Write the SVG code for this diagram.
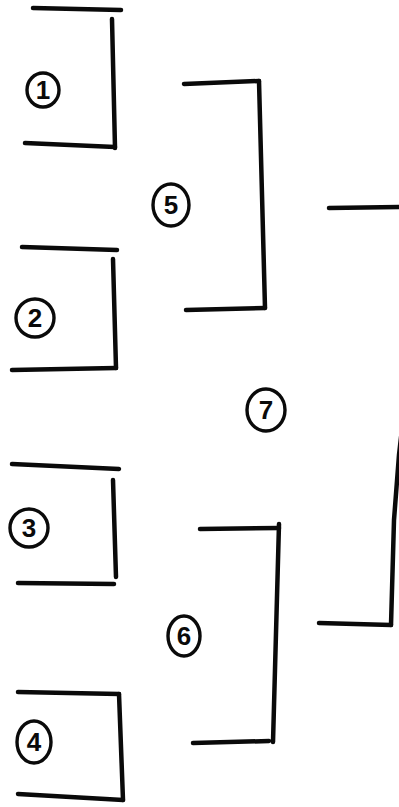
<svg xmlns="http://www.w3.org/2000/svg" width="399" height="807" viewBox="0 0 399 807">
<style>
.ln{fill:none;stroke:#0a0a0a;stroke-width:4.5;stroke-linecap:round;stroke-linejoin:round}
.ring{fill:none;stroke:#0a0a0a;stroke-width:3.4}
.num{font-family:"Liberation Sans",Arial,sans-serif;font-weight:bold;font-size:26px;fill:#0a0a0a;text-anchor:middle}
</style>
<rect width="399" height="807" fill="#ffffff"/>
<g id="connectors">
  <path class="ln" d="M33 8 L121 10"/>
  <path class="ln" d="M112 19 L115 148"/>
  <path class="ln" d="M25 143 L115 147"/>
  <path class="ln" d="M22 247 L117 250"/>
  <path class="ln" d="M113 259 L116 368"/>
  <path class="ln" d="M12 370 L116 368"/>
  <path class="ln" d="M184 84 L259 81"/>
  <path class="ln" d="M259 81 L265 308"/>
  <path class="ln" d="M186 310 L265 308"/>
  <path class="ln" d="M12 464 L119 469"/>
  <path class="ln" d="M113 480 L116 577"/>
  <path class="ln" d="M18 583 L114 584"/>
  <path class="ln" d="M18 692 L119 694"/>
  <path class="ln" d="M119 694 L123 800"/>
  <path class="ln" d="M18 794 L123 800"/>
  <path class="ln" d="M200 529 L279 528"/>
  <path class="ln" d="M279 524 L273 742"/>
  <path class="ln" d="M193 743 L269 741"/>
  <path class="ln" d="M329 208 L401 207"/>
  <path class="ln" d="M403 420 L399 455 L394 520 L391 625"/>
  <path class="ln" d="M319 623 L391 625"/>
</g>
<g id="node1"><ellipse class="ring" cx="43" cy="90" rx="16" ry="17"/><text class="num" x="43" y="99">1</text></g>
<g id="node2"><ellipse class="ring" cx="35" cy="318" rx="19" ry="19"/><text class="num" x="35" y="327">2</text></g>
<g id="node3"><ellipse class="ring" cx="29" cy="528" rx="19" ry="19"/><text class="num" x="29" y="537">3</text></g>
<g id="node4"><ellipse class="ring" cx="34" cy="742" rx="17" ry="21"/><text class="num" x="34" y="751">4</text></g>
<g id="node5"><ellipse class="ring" cx="171" cy="205" rx="18" ry="21"/><text class="num" x="171" y="214">5</text></g>
<g id="node6"><ellipse class="ring" cx="184" cy="636" rx="16" ry="20"/><text class="num" x="184" y="645">6</text></g>
<g id="node7"><ellipse class="ring" cx="266" cy="410" rx="19" ry="21"/><text class="num" x="266" y="419">7</text></g>
</svg>
